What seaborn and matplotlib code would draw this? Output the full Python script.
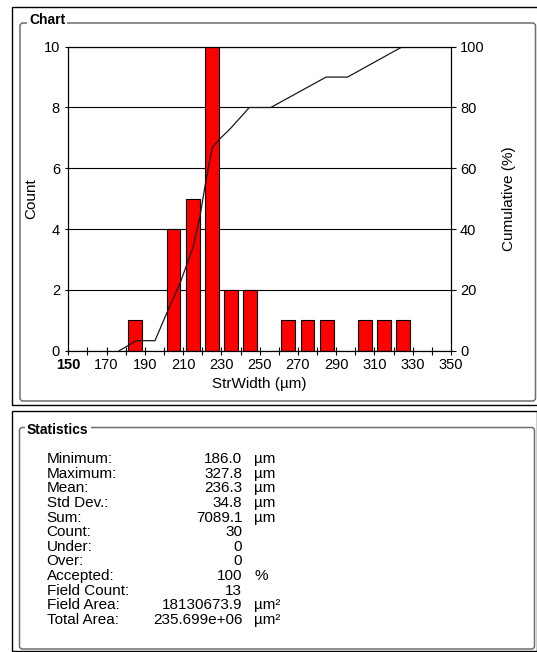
import numpy as np
import pandas as pd
import matplotlib
matplotlib.use("Agg")
import matplotlib.pyplot as plt
import seaborn as sns
from matplotlib.patches import Rectangle, FancyBboxPatch
from matplotlib.transforms import IdentityTransform

# ---------------- data ----------------
bin_left = [180, 200, 210, 220, 230, 240, 260, 270, 280, 300, 310, 320]
counts = [1, 4, 5, 10, 2, 2, 1, 1, 1, 1, 1, 1]
bin_width = 10

cum_x = [176.6, 185.7, 195.3, 201.4, 208.4, 215.3, 218.8, 221.1, 222.0,
         225.3, 228.9, 234.9, 244.6, 255.8, 284.7, 295.9, 324.6]
cum_pct = [0, 3.3, 3.3, 12.3, 22.2, 34.2, 44.1, 52.9, 56.2,
           66.9, 69.5, 73.2, 80, 80, 90, 90, 100]

x_ticks = list(range(150, 351, 20))
x_minor = list(range(160, 350, 20))
count_ticks = [0, 2, 4, 6, 8, 10]
pct_ticks = [0, 20, 40, 60, 80, 100]

stat_labels = ["Minimum:", "Maximum:", "Mean:", "Std Dev.:", "Sum:", "Count:",
               "Under:", "Over:", "Accepted:", "Field Count:", "Field Area:",
               "Total Area:"]
stat_values = ["186.0", "327.8", "236.3", "34.8", "7089.1", "30", "0", "0",
               "100", "13", "18130673.9", "235.699e+06"]
stat_units = ["µm", "µm", "µm", "µm", "µm", "", "", "", "%", "", "µm²", "µm²"]

# ---------------- figure ----------------
plt.rcParams['font.family'] = ['Liberation Sans', 'DejaVu Sans']
W, H = 537, 652
fig = plt.figure(figsize=(W / 100, H / 100), dpi=100)
fig.patch.set_facecolor("white")

def fx(px):
    return px / W

def fy(py):
    return 1 - py / H

ax_l, ax_r, ax_t, ax_b = 68.3, 451.0, 46.7, 350.7
ax = fig.add_axes([fx(ax_l), fy(ax_b), (ax_r - ax_l) / W, (ax_b - ax_t) / H])

df = pd.DataFrame({"StrWidth": np.array(bin_left) + bin_width / 2,
                   "Count": counts})
sns.barplot(data=df, x="StrWidth", y="Count", native_scale=True, width=0.72,
            color="#ff0000", saturation=1, edgecolor="black", linewidth=0.8,
            errorbar=None, ax=ax, zorder=2)

ax.set_xlim(150, 350)
ax.set_ylim(0, 10)
ax.set_xticks(x_ticks)
ax.set_xticks(x_minor, minor=True)
ax.set_xticklabels([str(v) for v in x_ticks])
ax.set_yticks(count_ticks)
ax.set_yticklabels([str(v) for v in count_ticks])
ax.yaxis.grid(True, color="black", linewidth=0.8)
ax.xaxis.grid(False)
ax.set_axisbelow(True)
ax.set_xlabel("")
ax.set_ylabel("")
ax.tick_params(axis="x", which="both", direction="inout", length=6,
               width=0.8, labelsize=10.5, pad=2.5, colors="black")
ax.tick_params(axis="y", direction="out", length=2.5, width=0.8,
               labelsize=10.5, pad=3.5, colors="black")
for lab in ax.get_xticklabels():
    if lab.get_text() == "150":
        lab.set_fontweight("bold")
for s in ax.spines.values():
    s.set_color("black")
    s.set_linewidth(0.8)

ax2 = ax.twinx()
sns.lineplot(x=cum_x, y=cum_pct, ax=ax2, color="#1a1a1a", linewidth=0.9,
             sort=True)
ax2.set_ylim(0, 100)
ax2.set_yticks(pct_ticks)
ax2.set_yticklabels([str(v) for v in pct_ticks])
ax2.set_ylabel("")
ax2.tick_params(axis="y", direction="out", length=3.5, width=0.8,
                labelsize=10.5, pad=3.0, colors="black")
for s in ax2.spines.values():
    s.set_color("black")
    s.set_linewidth(0.8)

# axis labels
fig.text(fx(259.7), fy(384), "StrWidth (µm)", ha="center", va="center",
         fontsize=11)
fig.text(fx(31.7), fy(198.7), "Count", ha="center", va="center",
         rotation=90, fontsize=11)
fig.text(fx(508.5), fy(198.7), "Cumulative (%)", ha="center", va="center",
         rotation=90, fontsize=11)

# ---------------- frames ----------------
ident = IdentityTransform()

def black_frame(x0, y0, x1, y1):
    r = Rectangle((x0, H - y1), x1 - x0, y1 - y0, transform=ident,
                  fill=False, edgecolor="black", linewidth=1.0, zorder=0)
    fig.patches.append(r)

def group_box(x0, y0, x1, y1):
    r = FancyBboxPatch((x0, H - y1), x1 - x0, y1 - y0,
                       boxstyle="round,pad=0,rounding_size=3",
                       transform=ident, fill=False, edgecolor="#6e6e6e",
                       linewidth=1.1, zorder=0)
    fig.patches.append(r)

black_frame(12, 7, 540, 404.5)
group_box(20, 23, 535.5, 401)
black_frame(12, 410.5, 536.7, 650.7)
group_box(19.5, 427.5, 534.5, 649)

fig.text(fx(29), fy(20), "Chart", ha="left", va="center", fontsize=10,
         fontweight="bold",
         bbox=dict(facecolor="white", edgecolor="none", pad=1.5))
fig.text(fx(27), fy(430), "Statistics", ha="left", va="center", fontsize=10,
         fontweight="bold",
         bbox=dict(facecolor="white", edgecolor="none", pad=1.5))

# ---------------- statistics ----------------
row0, dy = 459.0, 14.64
for i, (lab, val, unit) in enumerate(zip(stat_labels, stat_values, stat_units)):
    y = fy(row0 + i * dy)
    fig.text(fx(46.7), y, lab, ha="left", va="center", fontsize=11)
    fig.text(fx(242.3), y, val, ha="right", va="center", fontsize=11)
    if unit:
        fig.text(fx(254.3), y, unit, ha="left", va="center", fontsize=11)

fig.savefig("out.png", dpi=100, facecolor="white")
